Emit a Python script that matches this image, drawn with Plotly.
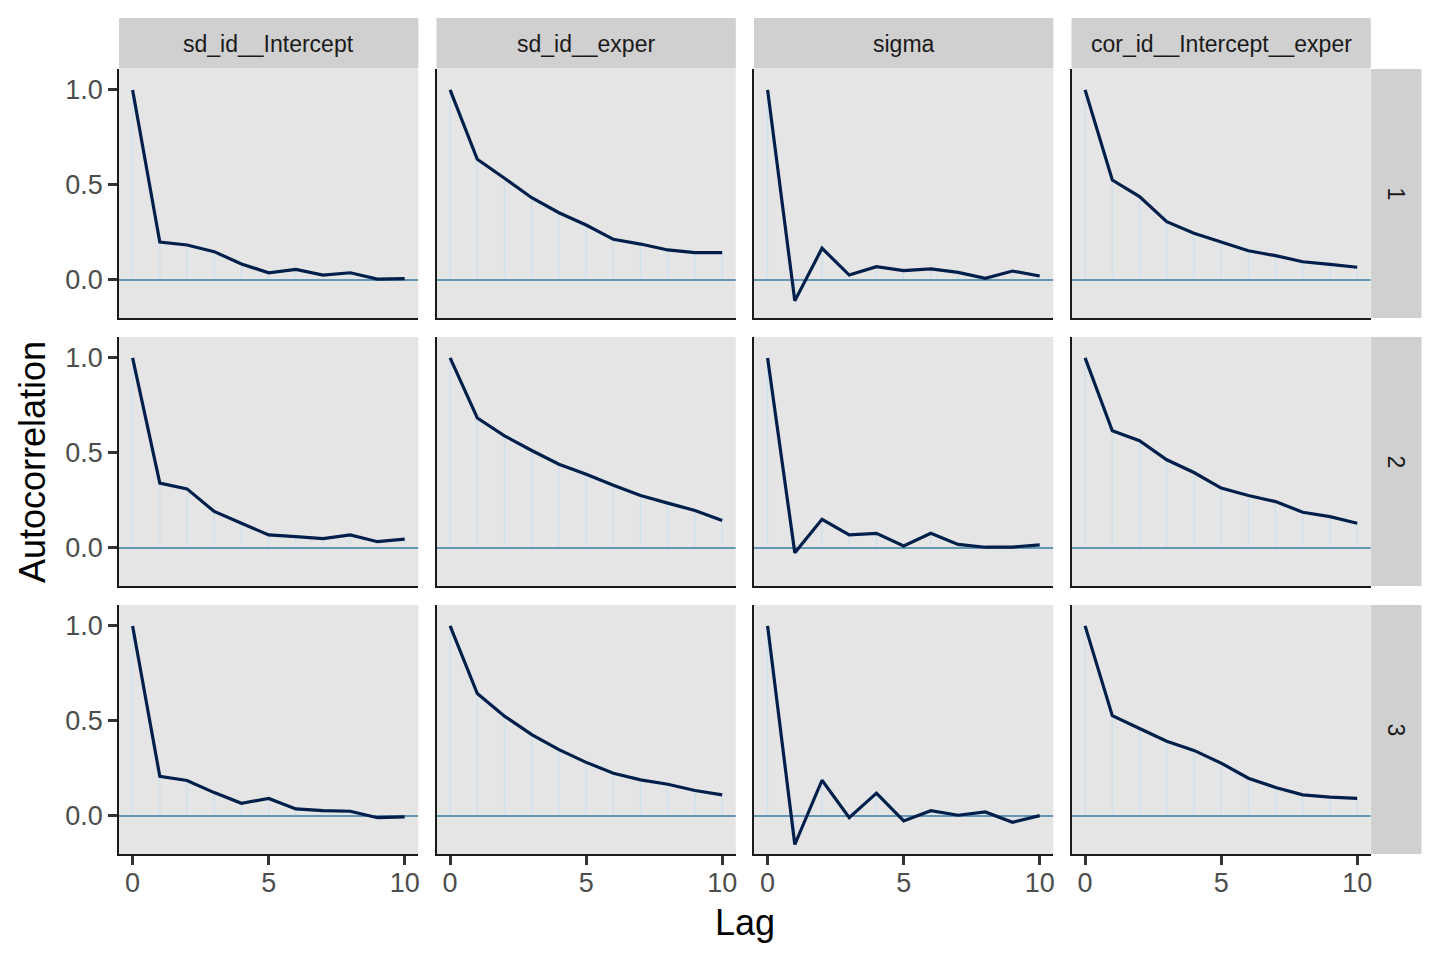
import plotly.graph_objects as go

# ---------------- data ----------------
lags = list(range(11))
params = ["sd_id__Intercept", "sd_id__exper", "sigma", "cor_id__Intercept__exper"]
chains = ["1", "2", "3"]

acf_sd_intercept = [
    [1.0, 0.200, 0.184, 0.149, 0.084, 0.038, 0.056, 0.026, 0.038, 0.005, 0.007],
    [1.0, 0.341, 0.311, 0.192, 0.130, 0.069, 0.060, 0.049, 0.069, 0.033, 0.047],
    [1.0, 0.208, 0.187, 0.123, 0.067, 0.092, 0.037, 0.028, 0.025, -0.009, -0.005],
]
acf_sd_exper = [
    [1.0, 0.635, 0.535, 0.433, 0.354, 0.289, 0.214, 0.189, 0.158, 0.144, 0.144],
    [1.0, 0.684, 0.590, 0.513, 0.441, 0.388, 0.330, 0.276, 0.236, 0.197, 0.144],
    [1.0, 0.644, 0.525, 0.428, 0.349, 0.282, 0.225, 0.190, 0.167, 0.134, 0.111],
]
acf_sigma = [
    [1.0, -0.110, 0.167, 0.026, 0.070, 0.049, 0.058, 0.040, 0.009, 0.047, 0.021],
    [1.0, -0.025, 0.151, 0.069, 0.077, 0.011, 0.077, 0.019, 0.004, 0.005, 0.016],
    [1.0, -0.150, 0.188, -0.009, 0.120, -0.026, 0.028, 0.004, 0.021, -0.033, 0.002],
]
acf_cor = [
    [1.0, 0.526, 0.439, 0.307, 0.246, 0.202, 0.154, 0.128, 0.096, 0.082, 0.067],
    [1.0, 0.617, 0.564, 0.464, 0.397, 0.315, 0.276, 0.244, 0.188, 0.165, 0.130],
    [1.0, 0.528, 0.460, 0.393, 0.345, 0.278, 0.199, 0.150, 0.111, 0.099, 0.093],
]
acf_by_param = [acf_sd_intercept, acf_sd_exper, acf_sigma, acf_cor]

x_ticks = [0, 5, 10]
y_ticks = [0.0, 0.5, 1.0]

# ---------------- styling / layout ----------------
W, H = 1440, 960
OFF = 8  # page body margin offset
FONT = "Liberation Sans, Arial, Helvetica, sans-serif"
LINE_COLOR = "#011f4b"
SEG_COLOR = "#d1e1ec"
HLINE_COLOR = "#6497b1"
PANEL_BG = "#E5E5E5"
STRIP_BG = "#D0D0D0"
XRANGE = [-0.5, 10.5]
YRANGE = [-0.2, 1.11]


def px_x(v):
    return (v - OFF) / W


def px_y(v):
    return 1 - (v - OFF) / H


col_left = [119, 436.5, 754, 1071.5]
panel_w = 299.3
row_top = [69, 337, 605]
panel_h = 249

fig = go.Figure()
shapes = []
annotations = []

for r in range(3):
    for c in range(4):
        n = r * 4 + c + 1
        xa = "x" if n == 1 else f"x{n}"
        ya = "y" if n == 1 else f"y{n}"
        vals = acf_by_param[c][r]

        seg_x, seg_y = [], []
        for k, v in zip(lags, vals):
            seg_x += [k, k, None]
            seg_y += [0, v, None]
        fig.add_trace(go.Scatter(x=seg_x, y=seg_y, mode="lines",
                                 line=dict(color=SEG_COLOR, width=1.5),
                                 xaxis=xa, yaxis=ya, showlegend=False, hoverinfo="skip"))
        fig.add_trace(go.Scatter(x=XRANGE, y=[0, 0], mode="lines",
                                 line=dict(color=HLINE_COLOR, width=1.8),
                                 xaxis=xa, yaxis=ya, showlegend=False, hoverinfo="skip"))
        fig.add_trace(go.Scatter(x=lags, y=vals, mode="lines",
                                 line=dict(color=LINE_COLOR, width=3.2),
                                 xaxis=xa, yaxis=ya, showlegend=False,
                                 name=f"{params[c]} chain {chains[r]}"))

        left = col_left[c]
        right = left + panel_w
        top = row_top[r]
        bottom = top + panel_h
        xdom = [px_x(left), px_x(right)]
        ydom = [px_y(bottom), px_y(top)]

        bottom_row = (r == 2)
        left_col = (c == 0)

        fig.layout[f"xaxis{'' if n == 1 else n}"] = dict(
            domain=xdom, anchor=ya, range=XRANGE, showgrid=False, zeroline=False,
            showline=True, linecolor="#1a1a1a", linewidth=1.6,
            tickvals=x_ticks, ticks="outside" if bottom_row else "",
            ticklen=9, tickwidth=2.6, tickcolor="#333333",
            showticklabels=bottom_row, ticklabelstandoff=-5,
            tickfont=dict(family=FONT, size=27, color="#4D4D4D"),
            fixedrange=True,
        )
        fig.layout[f"yaxis{'' if n == 1 else n}"] = dict(
            domain=ydom, anchor=xa, range=YRANGE, showgrid=False, zeroline=False,
            showline=True, linecolor="#1a1a1a", linewidth=1.6,
            tickvals=y_ticks, tickformat=".1f", ticks="outside" if left_col else "",
            ticklen=9, tickwidth=2.6, tickcolor="#333333",
            showticklabels=left_col,
            tickfont=dict(family=FONT, size=27, color="#4D4D4D"),
            fixedrange=True,
        )

# column strips
for c in range(4):
    left = col_left[c]
    right = left + panel_w
    shapes.append(dict(type="rect", xref="paper", yref="paper",
                       x0=px_x(left), x1=px_x(right), y0=px_y(68.5), y1=px_y(18),
                       fillcolor=STRIP_BG, line=dict(width=0), layer="below"))
    annotations.append(dict(text=params[c], xref="paper", yref="paper",
                            x=px_x((left + right) / 2), y=px_y(44), showarrow=False,
                            xanchor="center", yanchor="middle",
                            font=dict(family=FONT, size=23, color="#1A1A1A")))
# row strips
for r in range(3):
    top = row_top[r]
    bottom = top + panel_h
    shapes.append(dict(type="rect", xref="paper", yref="paper",
                       x0=px_x(1371), x1=px_x(1421.5), y0=px_y(bottom), y1=px_y(top),
                       fillcolor=STRIP_BG, line=dict(width=0), layer="below"))
    annotations.append(dict(text=chains[r], xref="paper", yref="paper",
                            x=px_x(1396), y=px_y((top + bottom) / 2), showarrow=False,
                            textangle=90, xanchor="center", yanchor="middle",
                            font=dict(family=FONT, size=23, color="#1A1A1A")))

# axis titles
annotations.append(dict(text="Lag", xref="paper", yref="paper",
                        x=px_x((119 + 1370) / 2), y=px_y(922), showarrow=False,
                        xanchor="center", yanchor="middle",
                        font=dict(family=FONT, size=36, color="#000000")))
annotations.append(dict(text="Autocorrelation", xref="paper", yref="paper",
                        x=px_x(32), y=px_y(462), showarrow=False, textangle=-90,
                        xanchor="center", yanchor="middle",
                        font=dict(family=FONT, size=36, color="#000000")))

fig.update_layout(
    width=W, height=H,
    margin=dict(l=0, r=0, t=0, b=0),
    paper_bgcolor="white", plot_bgcolor=PANEL_BG,
    shapes=shapes, annotations=annotations,
    showlegend=False,
    font=dict(family=FONT),
)

fig.write_html("out.html")
